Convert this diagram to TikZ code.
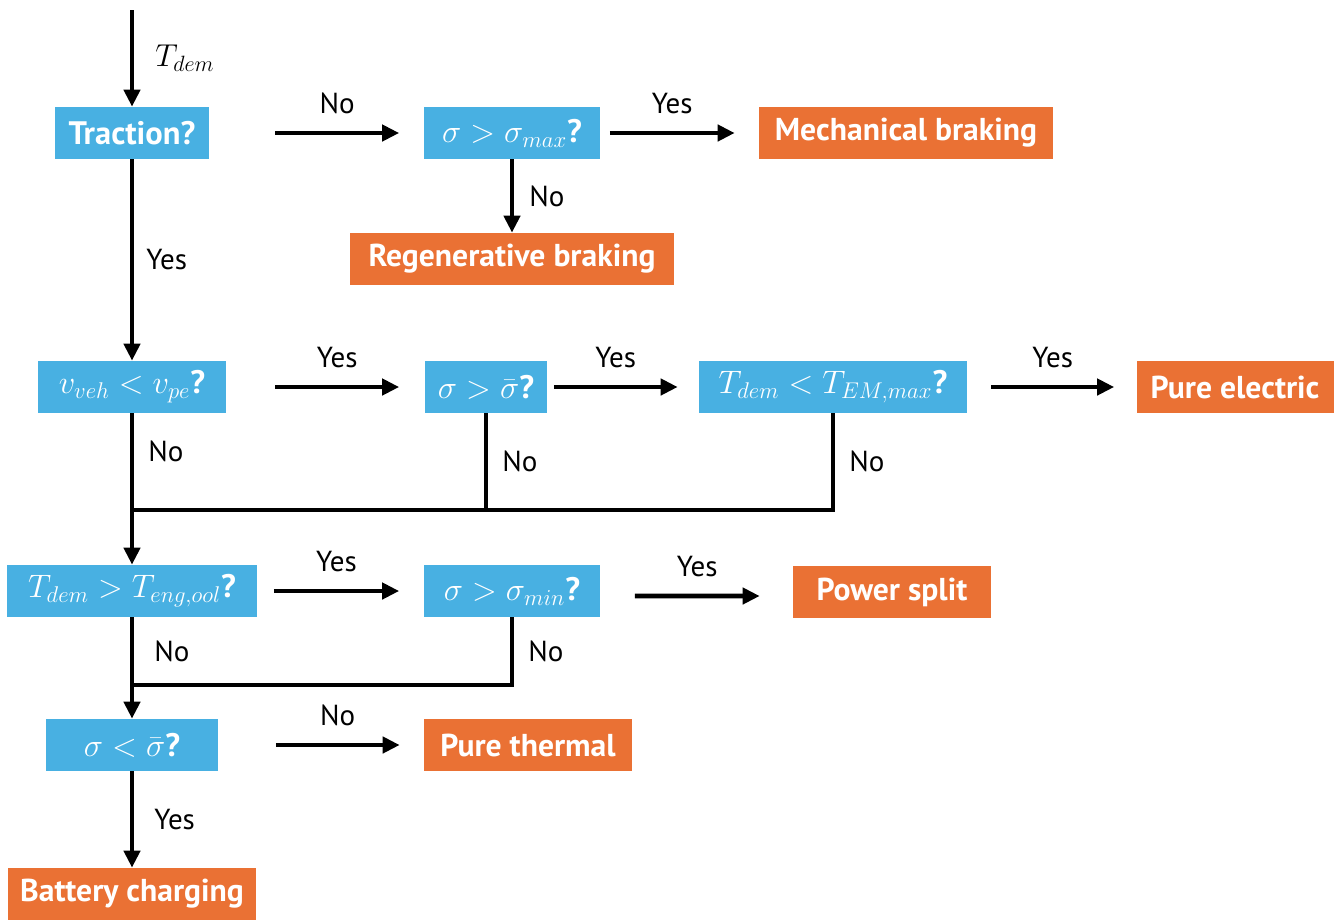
\RequirePackage{fix-cm}
\documentclass[tikz,border=0pt]{standalone}
\usepackage{amsmath}
\usepackage{fontspec}
\setmainfont{PT Sans}
\usepackage{tikz}
\usetikzlibrary{arrows.meta,positioning}
\definecolor{condblue}{RGB}{72,176,226}
\definecolor{modeorange}{RGB}{234,113,52}

\begin{document}
\begin{tikzpicture}
	[x=0.02cm, y=-0.02cm,
	cond/.style	= {rectangle, fill=condblue, text=white, inner sep=0pt, minimum height=1.04cm, font=\fontsize{18.5}{22}\selectfont\bfseries},
	mode/.style	= {rectangle, fill=modeorange, text=white, inner sep=0pt, minimum height=1.04cm, font=\fontsize{18}{21}\selectfont\bfseries},
	paths/.style	= {-{Triangle[length=0.34cm, width=0.32cm]}, line width=2.6pt},
	joins/.style	= {line width=2.6pt},
	lbl/.style	= {inner sep=0pt, text=black, font=\fontsize{16.5}{19}\selectfont}]

	\useasboundingbox (0,0) rectangle (1338,920);

	\coordinate (start) at (132,10);
	\coordinate (j1) at (132,510);
	\coordinate (j2) at (132,685);

	\node at (132,133)	[cond, minimum width=3.08cm]	(trac)	{Traction?};
	\node at (512,133)	[cond, minimum width=3.54cm]	(smax)	{$\sigma > \sigma_{max}$?};
	\node at (906,133)	[mode, minimum width=5.88cm]	(mech)	{Mechanical braking};
	\node at (512,259)	[mode, minimum width=6.48cm]	(regen)	{Regenerative braking};

	\node at (132,387)	[cond, minimum width=3.76cm]	(veh)	{$v_{veh} < v_{pe}$?};
	\node at (486,387)	[cond, minimum width=2.46cm]	(sbar)	{$\sigma > \bar{\sigma}$?};
	\node at (833,387)	[cond, minimum width=5.36cm]	(tem)	{$T_{dem} < T_{EM,max}$?};
	\node at (1235,387)	[mode, minimum width=3.94cm]	(pe)	{Pure electric};

	\node at (132,591)	[cond, minimum width=5.02cm]	(teng)	{$T_{dem} > T_{eng,ool}$?};
	\node at (512,591)	[cond, minimum width=3.54cm]	(smin)	{$\sigma > \sigma_{min}$?};
	\node at (892,592)	[mode, minimum width=3.96cm]	(ps)	{Power split};

	\node at (132,745)	[cond, minimum width=3.46cm]	(slo)	{$\sigma < \bar{\sigma}$?};
	\node at (528,745)	[mode, minimum width=4.16cm]	(pt)	{Pure thermal};
	\node at (132,894)	[mode, minimum width=4.98cm]	(batt)	{Battery charging};

	\draw [paths] (start) -- (trac.north) node[lbl, midway, right=0.42cm] (ltd) {\fontsize{18}{21}\selectfont$T_{dem}$};

	\draw [paths] ([xshift=1.32cm]trac.east) -- ([xshift=-0.48cm]smax.west) node[lbl, midway, above=0.34cm] (l1) {No};
	\draw [paths] ([xshift=0.18cm]smax.east) -- ([xshift=-0.48cm]mech.west) node[lbl, midway, above=0.34cm] (l2) {Yes};
	\draw [paths] (smax.south) -- (regen.north) node[lbl, midway, right=0.3cm] (l3) {No};
	\draw [paths] (trac.south) -- (veh.north) node[lbl, midway, right=0.24cm] (l4) {Yes};

	\draw [paths] ([xshift=0.98cm]veh.east) -- ([xshift=-0.5cm]sbar.west) node[lbl, midway, above=0.34cm] (l5) {Yes};
	\draw [paths] ([xshift=0.12cm]sbar.east) -- ([xshift=-0.42cm]tem.west) node[lbl, midway, above=0.34cm] (l6) {Yes};
	\draw [paths] ([xshift=0.48cm]tem.east) -- ([xshift=-0.44cm]pe.west) node[lbl, midway, above=0.34cm] (l7) {Yes};

	\draw [joins] (veh.south) -- node[lbl, right=0.28cm, yshift=0.2cm] (l8) {No} (j1);
	\draw [joins] (sbar.south) -- node[lbl, right=0.28cm] (l9) {No} (sbar.south |- j1);
	\draw [joins] (tem.south) -- node[lbl, right=0.28cm] (l10) {No} (tem.south |- j1) -- (j1);
	\draw [paths] (j1) -- (teng.north);

	\draw [paths] ([xshift=0.32cm]teng.east) -- ([xshift=-0.48cm]smin.west) node[lbl, midway, above=0.34cm] (l11) {Yes};
	\draw [paths] ([xshift=0.68cm, yshift=-0.1cm]smin.east) -- ([xshift=-0.66cm, yshift=-0.08cm]ps.west) node[lbl, midway, above=0.34cm] (l12) {Yes};

	\draw [joins] (teng.south) -- node[lbl, right=0.4cm] (l13) {No} (j2);
	\draw [joins] (smin.south) -- node[lbl, right=0.28cm] (l14) {No} (smin.south |- j2) -- (j2);
	\draw [paths] (j2) -- (slo.north);

	\draw [paths] ([xshift=1.14cm]slo.east) -- ([xshift=-0.48cm]pt.west) node[lbl, midway, above=0.34cm] (l15) {No};
	\draw [paths] (slo.south) -- (batt.north) node[lbl, midway, right=0.4cm] (l16) {Yes};
\end{tikzpicture}
\end{document}
